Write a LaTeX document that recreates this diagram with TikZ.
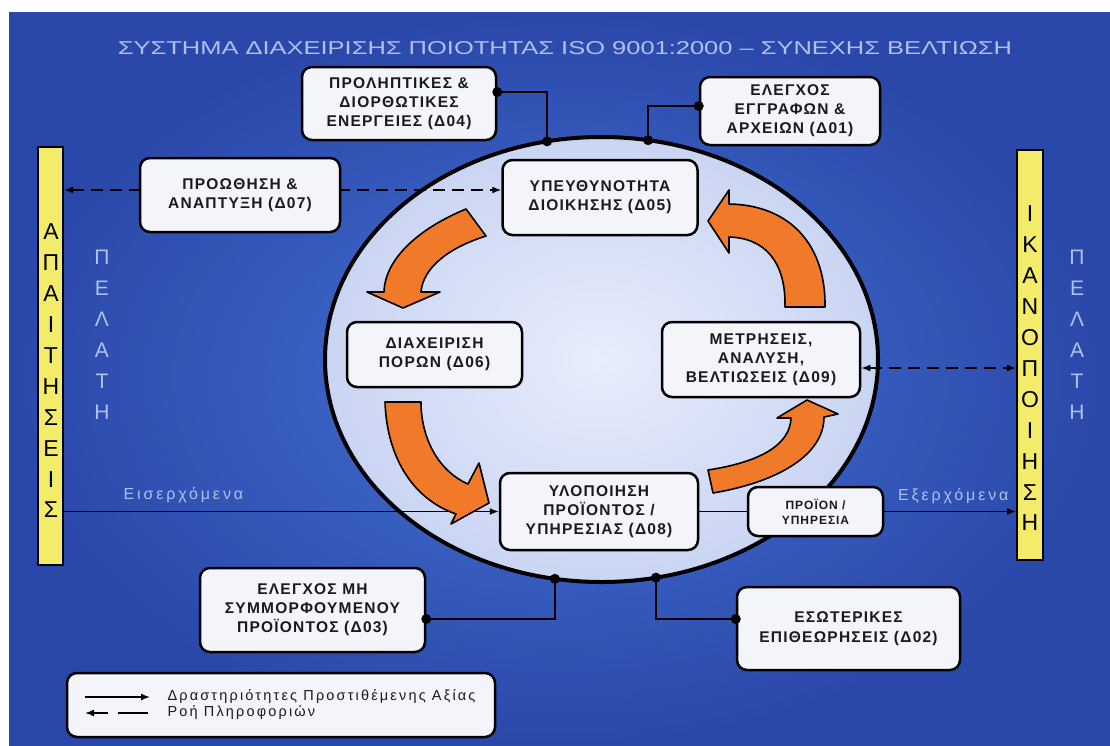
\documentclass[tikz,border=0pt]{standalone}
\usepackage{fontspec}
\usepackage{graphicx}
\usetikzlibrary{shapes.geometric,arrows.meta,calc}
\setmainfont{Liberation Sans}
\newfontfamily\lsans[LetterSpace=8]{Liberation Sans}
\newfontfamily\legsans[LetterSpace=15]{Liberation Sans}
\newfontfamily\wsans[LetterSpace=18]{Liberation Sans}
\definecolor{bgin}{HTML}{4472D2}
\definecolor{bgout}{HTML}{2A48AA}
\definecolor{circin}{HTML}{E8EDFB}
\definecolor{circout}{HTML}{CAD5F3}
\definecolor{boxfill}{HTML}{F3F5FB}
\definecolor{baryellow}{HTML}{F2EC6A}
\definecolor{orangefill}{HTML}{F07A2A}
\definecolor{lighttext}{HTML}{B0C0EE}
\definecolor{boxtext}{HTML}{1A1A1A}
\tikzset{
  procbox/.style={draw=black, line width=2.5pt, rounded corners=10pt, fill=boxfill,
    align=center, inner sep=0pt, text=boxtext,
    font=\lsans\bfseries\fontsize{15.5}{19}\selectfont},
  bar/.style={draw=black, line width=2pt, fill=baryellow, inner sep=0pt},
  barletters/.style={align=center, text=black, font=\fontsize{23}{30.9}\selectfont},
  clientletters/.style={align=center, text=lighttext, font=\fontsize{21}{31}\selectfont},
  conn/.style={line width=1.5pt, draw=black},
  dotmark/.style={fill=black},
  flow/.style={line width=1.5pt, draw=black, -{Latex[length=9pt,width=7pt]}},
  info/.style={line width=1.5pt, draw=black, dash pattern=on 12pt off 7pt,
    {Latex[length=9pt,width=7pt]}-{Latex[length=9pt,width=7pt]}},
  cyclearrow/.style={draw=black, line width=1.6pt, fill=orangefill, line join=round},
  flowlabel/.style={text=lighttext, font=\wsans\fontsize{16}{18}\selectfont},
}
\begin{document}
\begin{tikzpicture}[x=1pt,y=-1pt]
\useasboundingbox (0,0) rectangle (1110,745);
\fill[white] (0,0) rectangle (1110,745);
\shade[inner color=bgin, outer color=bgout] (9,12) rectangle (1110,745);

% title
\node[text=lighttext] (title) at (565,48) {\resizebox{894pt}{13pt}{ΣΥΣΤΗΜΑ ΔΙΑΧΕΙΡΙΣΗΣ ΠΟΙΟΤΗΤΑΣ ISO 9001:2000 – ΣΥΝΕΧΗΣ ΒΕΛΤΙΩΣΗ}};

% side bars
\node[bar, minimum width=25pt, minimum height=418pt] (lbar) at (50.5,356) {};
\node[bar, minimum width=26pt, minimum height=410pt] (rbar) at (1030,355) {};
\node[barletters] (lbartext) at (51,371) {Α\\Π\\Α\\Ι\\Τ\\Η\\Σ\\Ε\\Ι\\Σ};
\node[barletters] (rbartext) at (1030,368.5) {Ι\\Κ\\Α\\Ν\\Ο\\Π\\Ο\\Ι\\Η\\Σ\\Η};
\node[clientletters] (lclient) at (102,334.5) {Π\\Ε\\Λ\\Α\\Τ\\Η};
\node[clientletters] (rclient) at (1077,334.5) {Π\\Ε\\Λ\\Α\\Τ\\Η};

% central ellipse
\node[ellipse, draw=black, line width=4pt, outer sep=0pt, inner color=circin, outer color=circout,
  minimum width=553pt, minimum height=445pt] (circ) at (601.5,359.5) {};

% boxes
\node[procbox, minimum width=194pt, minimum height=73pt] (d04) at (399,103.5) {ΠΡΟΛΗΠΤΙΚΕΣ \&\\ΔΙΟΡΘΩΤΙΚΕΣ\\ΕΝΕΡΓΕΙΕΣ (Δ04)};
\node[procbox, minimum width=180pt, minimum height=68pt] (d01) at (790,111) {ΕΛΕΓΧΟΣ\\ΕΓΓΡΑΦΩΝ \&\\ΑΡΧΕΙΩΝ (Δ01)};
\node[procbox, minimum width=195pt, minimum height=75pt] (d05) at (600,197.5) {ΥΠΕΥΘΥΝΟΤΗΤΑ\\ΔΙΟΙΚΗΣΗΣ (Δ05)};
\node[procbox, minimum width=175pt, minimum height=65pt] (d06) at (434.5,354.5) {ΔΙΑΧΕΙΡΙΣΗ\\ΠΟΡΩΝ (Δ06)};
\node[procbox, minimum width=198pt, minimum height=75pt] (d09) at (761,359.5) {ΜΕΤΡΗΣΕΙΣ,\\ΑΝΑΛΥΣΗ,\\ΒΕΛΤΙΩΣΕΙΣ (Δ09)};
\node[procbox, minimum width=198pt, minimum height=77pt] (d08) at (599,511.5) {ΥΛΟΠΟΙΗΣΗ\\ΠΡΟΪΟΝΤΟΣ /\\ΥΠΗΡΕΣΙΑΣ (Δ08)};
\node[procbox, minimum width=135pt, minimum height=49pt, font=\lsans\bfseries\fontsize{12}{15}\selectfont] (prod) at (815.5,511.5) {ΠΡΟΪΟΝ /\\ΥΠΗΡΕΣΙΑ};
\node[procbox, minimum width=225pt, minimum height=84pt] (d03) at (312.5,610) {ΕΛΕΓΧΟΣ ΜΗ\\ΣΥΜΜΟΡΦΟΥΜΕΝΟΥ\\ΠΡΟΪΟΝΤΟΣ (Δ03)};
\node[procbox, minimum width=223pt, minimum height=83pt, font=\lsans\bfseries\fontsize{15.5}{20}\selectfont] (d02) at (848.5,628.5) {ΕΣΩΤΕΡΙΚΕΣ\\ΕΠΙΘΕΩΡΗΣΕΙΣ (Δ02)};

% connection points
\coordinate (a04) at ($(d04.east)+(0,-11.5)$);
\coordinate (a01) at ($(d01.west)+(0,-5)$);
\coordinate (a03) at ($(d03.east)+(0,9)$);
\coordinate (a02) at ($(d02.west)+(0,-9.5)$);
\coordinate (p07) at ($(d05.west)+(0,-7.5)$);
\coordinate (p09) at ($(d09.east)+(0,8.5)$);

% connectors (behind the Δ07 box)
\draw[info] (lbar.east |- p07) -- (p07);
\draw[info] (p09) -- (rbar.west |- p09);
\draw[flow] (lbar.east |- d08.west) -- (d08.west);
\draw[conn] (d08.east) -- (d08.east -| prod.west);
\draw[flow] (prod.east) -- (rbar.west |- prod.east);

\draw[conn] (a04) -| (circ.104.5);
\draw[conn] (a01) -| (circ.78.8);
\draw[conn] (a03) -| (circ.258);
\draw[conn] (a02) -| (circ.284.3);
\foreach \p in {a04,a01,a03,a02,circ.104.5,circ.78.8,circ.258,circ.284.3}
  \fill[dotmark] (\p) circle (5pt);

% Δ07 box on top of dashed line
\node[procbox, minimum width=200pt, minimum height=74pt] (d07) at (240,195) {ΠΡΟΩΘΗΣΗ \&\\ΑΝΑΠΤΥΞΗ (Δ07)};

% orange cycle arrows
\draw[cyclearrow] (466,209) .. controls (420,228) and (385,258) .. (384,292) -- (367,292) -- (403,308) -- (440,292) -- (421,292) .. controls (423,268) and (448,248) .. (486,236) -- cycle;
\draw[cyclearrow] (825,307) .. controls (826,245) and (790,205) .. (729,204) -- (729,190) -- (708,221) -- (729,253) -- (729,237) .. controls (765,238) and (786,262) .. (785,307) -- cycle;
\draw[cyclearrow] (385,402) .. controls (387,460) and (415,500) .. (456,514) -- (451,524) -- (489,503) -- (479,463) -- (468,484) .. controls (440,472) and (421,440) .. (421,402) -- cycle;
\draw[cyclearrow] (713,493) .. controls (778,482) and (824,455) .. (824,417) -- (838,414) -- (807,400) -- (777,418) -- (791,418) .. controls (790,445) and (760,462) .. (708,470) -- cycle;

% flow labels
\node[flowlabel, anchor=west] (inlabel) at (120,495) {Εισερχόμενα};
\node[flowlabel, anchor=east] (outlabel) at (1012,496) {Εξερχόμενα};

% legend
\node[procbox, minimum width=428pt, minimum height=64pt] (leg) at (281,705) {};
\coordinate (ls1) at (85,697);
\coordinate (ls2) at (150,697);
\coordinate (ld1) at (148,713);
\coordinate (ld2) at (85,713);
\draw[flow] (ls1) -- (ls2);
\draw[line width=1.5pt, dash pattern=on 30pt off 10pt, -{Latex[length=9pt,width=7pt]}] (ld1) -- (ld2);
\node[anchor=west, align=left, text=boxtext, font=\legsans\fontsize{14.5}{16}\selectfont] (legtext) at (164,705) {Δραστηριότητες Προστιθέμενης Αξίας\\Ροή Πληροφοριών};
\end{tikzpicture}
\end{document}
